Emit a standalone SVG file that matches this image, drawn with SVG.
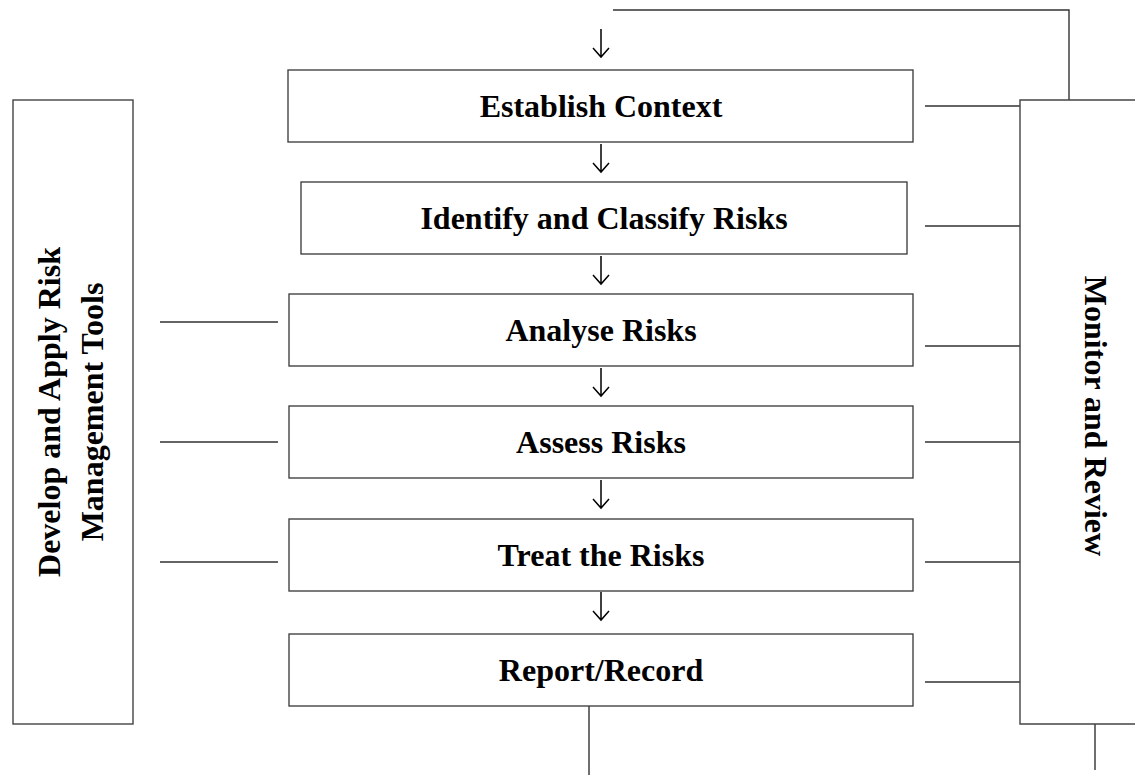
<svg xmlns="http://www.w3.org/2000/svg" width="1135" height="775" viewBox="0 0 1135 775">
<style>
.box{fill:#fff;stroke:#444;stroke-width:1.4}
.ln{fill:none;stroke:#333;stroke-width:1.4}
.arr{fill:none;stroke:#000;stroke-width:1.5}
.t{font-family:"Liberation Serif",serif;font-weight:bold;font-size:32px;fill:#000;text-anchor:middle}
</style>
<rect width="1135" height="775" fill="#fff"/>
<g id="connectors">
<path class="ln" d="M613 10H1069V100"/>
<path class="ln" d="M925 106H1020M925 226H1020M925 346H1020M925 442H1020M925 562H1020M925 682H1020"/>
<path class="ln" d="M910 442H913"/>
<path class="ln" d="M160 322H278M160 442H278M160 562H278"/>
<path class="ln" d="M589 706V775M1095 722V770"/>
<path class="arr" d="M601 29V57M593 48L601 57L609 48"/>
<path class="arr" d="M601 144V172M593 163L601 172L609 163"/>
<path class="arr" d="M601 256V284M593 275L601 284L609 275"/>
<path class="arr" d="M601 368V396M593 387L601 396L609 387"/>
<path class="arr" d="M601 480V508M593 499L601 508L609 499"/>
<path class="arr" d="M601 592V620M593 611L601 620L609 611"/>
</g>
<g id="tools">
<rect class="box" x="13" y="100" width="120" height="624"/>
<text class="t" transform="translate(60,412) rotate(-90)">Develop and Apply Risk</text>
<text class="t" transform="translate(103,412) rotate(-90)">Management Tools</text>
</g>
<g id="monitor">
<path class="box" d="M1136 100H1020V724H1136"/>
<text class="t" transform="translate(1085,416) rotate(90)">Monitor and Review</text>
</g>
<g id="establish"><rect class="box" x="288" y="70" width="625" height="72"/><text class="t" x="601" y="117">Establish Context</text></g>
<g id="identify"><rect class="box" x="301" y="182" width="606" height="72"/><text class="t" x="604" y="229">Identify and Classify Risks</text></g>
<g id="analyse"><rect class="box" x="289" y="294" width="624" height="72"/><text class="t" x="601" y="341">Analyse Risks</text></g>
<g id="assess"><rect class="box" x="289" y="406" width="624" height="72"/><text class="t" x="601" y="453">Assess Risks</text></g>
<g id="treat"><rect class="box" x="289" y="519" width="624" height="72"/><text class="t" x="601" y="566">Treat the Risks</text></g>
<g id="report"><rect class="box" x="289" y="634" width="624" height="72"/><text class="t" x="601" y="681">Report/Record</text></g>
</svg>
